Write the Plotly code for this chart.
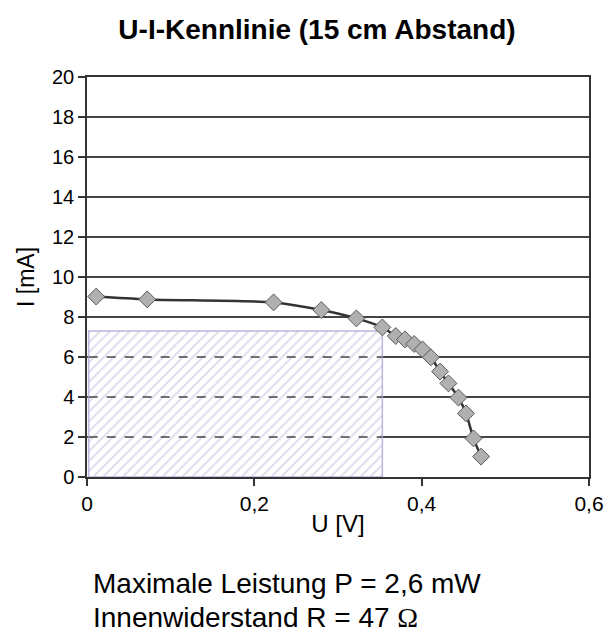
import plotly.graph_objects as go

# Data
u_values = [0.011, 0.072, 0.223, 0.280, 0.322, 0.353, 0.369, 0.380, 0.391, 0.401,
            0.411, 0.422, 0.432, 0.444, 0.453, 0.462, 0.471]
i_values = [9.02, 8.88, 8.73, 8.35, 7.93, 7.48, 7.05, 6.88, 6.65, 6.38,
            5.98, 5.27, 4.68, 3.97, 3.18, 1.93, 1.02]

# Maximum power rectangle (U_mpp, I_mpp)
mpp_u = 0.353
mpp_i = 7.3

x_ticks = [0, 0.2, 0.4, 0.6]
x_ticktext = ["0", "0,2", "0,4", "0,6"]
y_ticks = list(range(0, 21, 2))

title_text = "<b>U-I-Kennlinie (15 cm Abstand)</b>"
note_lines = ["Maximale Leistung P = 2,6 mW",
              "Innenwiderstand R = 47 <span style='font-family:Liberation Serif'>Ω</span>"]

fig = go.Figure()

# hatched rectangle
fig.add_trace(go.Scatter(
    x=[0.002, mpp_u, mpp_u, 0.002, 0.002],
    y=[0, 0, mpp_i, mpp_i, 0],
    mode="lines",
    fill="toself",
    fillcolor="white",
    fillpattern=dict(shape="/", fgcolor="#b4b4da", bgcolor="white", size=7, solidity=0.25),
    line=dict(color="#b8b8e0", width=1.5),
    hoverinfo="skip",
    showlegend=False,
))

# curve
fig.add_trace(go.Scatter(
    x=u_values, y=i_values,
    mode="lines+markers",
    line=dict(color="#333333", width=2.5, shape="spline", smoothing=0.8),
    marker=dict(symbol="diamond", size=13, color="#b0b0b0",
                line=dict(color="#5a5a5a", width=1)),
    showlegend=False,
))

shapes = []
for yv in y_ticks:
    if 0 < yv < mpp_i:
        shapes.append(dict(type="line", xref="x", yref="y", x0=0.002, x1=mpp_u, y0=yv, y1=yv,
                           line=dict(color="#444444", width=1.5, dash="dash"), layer="above"))

fig.update_layout(
    width=616, height=639,
    margin=dict(l=87, r=16, t=77, b=162),
    paper_bgcolor="white", plot_bgcolor="white",
    font=dict(family="Liberation Sans, Arial, sans-serif", color="black"),
    title=dict(text=title_text, x=(322 - 87) / 513, xref="paper", xanchor="center",
               y=1 - 29 / 639, yref="container", yanchor="middle",
               font=dict(size=28, color="black")),
    shapes=shapes,
    annotations=[
        dict(text=note_lines[0], xref="paper", yref="paper", x=(91 - 87) / 513, y=-(583 - 477) / 400,
             xanchor="left", yanchor="middle", showarrow=False, font=dict(size=28)),
        dict(text=note_lines[1], xref="paper", yref="paper", x=(91 - 87) / 513, y=-(617 - 477) / 400,
             xanchor="left", yanchor="middle", showarrow=False, font=dict(size=28)),
    ],
)

fig.update_xaxes(
    range=[0, 0.6], tickvals=x_ticks, ticktext=x_ticktext,
    showgrid=False, zeroline=False,
    showline=True, linecolor="#333333", linewidth=1.5, mirror=True,
    ticks="outside", ticklen=7, tickcolor="#333333", tickwidth=1.5,
    tickfont=dict(size=21),
    title=dict(text="U [V]", font=dict(size=24), standoff=1),
)
fig.update_yaxes(
    range=[0, 20], tickvals=y_ticks,
    showgrid=True, gridcolor="#444444", gridwidth=1.5, zeroline=False,
    showline=True, linecolor="#333333", linewidth=1.5, mirror=True,
    ticks="outside", ticklen=7, tickcolor="#333333", tickwidth=1.5,
    tickfont=dict(size=20),
    title=dict(text="I [mA]", font=dict(size=23), standoff=11),
)

fig.write_html("out.html")
